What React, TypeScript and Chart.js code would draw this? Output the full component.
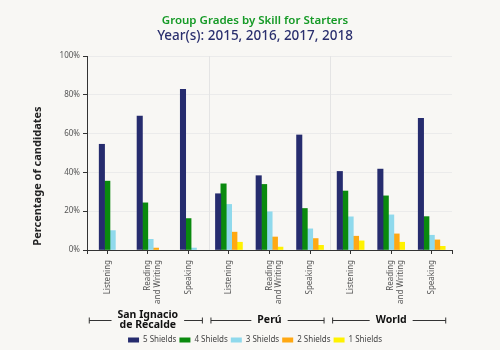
import React, { useEffect, useRef } from "react";
import { Chart, registerables } from "chart.js";

Chart.register(...registerables);

const skillLabels: (string | string[])[] = [
  "Listening", ["Reading", "and Writing"], "Speaking",
  "Listening", ["Reading", "and Writing"], "Speaking",
  "Listening", ["Reading", "and Writing"], "Speaking",
];
const groupLabels: string[][] = [["San Ignacio", "de Recalde"], ["Perú"], ["World"]];
const skillsPerGroup = 3;

const seriesNames = ["5 Shields", "4 Shields", "3 Shields", "2 Shields", "1 Shields"];
const shields5 = [54.5, 69, 82.8, 29, 38.3, 59.3, 40.5, 41.7, 67.9];
const shields4 = [35.5, 24.3, 16.2, 34.1, 33.8, 21.4, 30.4, 27.9, 17.2];
const shields3 = [10, 5.5, 1, 23.5, 19.7, 10.9, 17.1, 18.1, 7.6];
const shields2 = [null, 1, null, 9.2, 6.7, 5.9, 7.1, 8.3, 5.2];
const shields1 = [null, null, null, 4, 1.5, 2.4, 4.7, 4, 1.9];
const yTicks = [0, 20, 40, 60, 80, 100];

const colors = ["#262c6e", "#0a8a0e", "#8fd9ec", "#ffa812", "#fff200"];
const BG = "#f8f7f4";
const FONT = "'Noto Sans', sans-serif";

const decorPlugin = {
  id: "decor",
  beforeDatasetsDraw(chart: any) {
    const { ctx, chartArea } = chart;
    const xs = chart.scales.x;
    ctx.save();
    ctx.strokeStyle = "#e4e4e4";
    ctx.lineWidth = 1;
    for (let g = 1; g < groupLabels.length; g++) {
      const a = xs.getPixelForValue(g * skillsPerGroup - 1);
      const b = xs.getPixelForValue(g * skillsPerGroup);
      const x = Math.round((a + b) / 2) + 0.5;
      ctx.beginPath();
      ctx.moveTo(x, chartArea.top);
      ctx.lineTo(x, chartArea.bottom);
      ctx.stroke();
    }
    ctx.restore();
  },
  afterDraw(chart: any) {
    const { ctx, chartArea } = chart;
    const xs = chart.scales.x;
    ctx.save();
    ctx.strokeStyle = "#333";
    ctx.lineWidth = 1;
    [chartArea.left, chartArea.right].forEach((x: number) => {
      const px = Math.round(x) + 0.5;
      ctx.beginPath();
      ctx.moveTo(px, chartArea.bottom);
      ctx.lineTo(px, chartArea.bottom + 4);
      ctx.stroke();
    });
    ctx.fillStyle = "#222";
    ctx.font = `bold 11px ${FONT}`;
    ctx.textAlign = "center";
    ctx.textBaseline = "middle";
    ctx.translate(38, chartArea.bottom - 74);
    ctx.rotate(-Math.PI / 2);
    ctx.fillText("Percentage of candidates", 0, 0);
    ctx.restore();

    ctx.save();
    ctx.font = `bold 10.5px ${FONT}`;
    ctx.fillStyle = "#111";
    ctx.strokeStyle = "#333";
    ctx.lineWidth = 1;
    ctx.textAlign = "center";
    ctx.textBaseline = "middle";
    const y = Math.round(chartArea.bottom + 70) + 0.5;
    groupLabels.forEach((lines, g) => {
      const x0 = xs.getPixelForValue(g * skillsPerGroup);
      const x2 = xs.getPixelForValue(g * skillsPerGroup + skillsPerGroup - 1);
      const cx = (x0 + x2) / 2;
      const start = x0 - 18;
      const end = x2 + 14;
      const tw = Math.max(...lines.map((l) => ctx.measureText(l).width));
      const lh = 10;
      lines.forEach((l, i) => {
        ctx.fillText(l, cx, y + (i - (lines.length - 1) / 2) * lh);
      });
      ctx.beginPath();
      ctx.moveTo(start, y);
      ctx.lineTo(cx - tw / 2 - 6, y);
      ctx.moveTo(cx + tw / 2 + 6, y);
      ctx.lineTo(end, y);
      ctx.moveTo(start, y - 3);
      ctx.lineTo(start, y + 3);
      ctx.moveTo(end, y - 3);
      ctx.lineTo(end, y + 3);
      ctx.stroke();
    });
    ctx.restore();
  },
};

export default function App() {
  const ref = useRef<HTMLCanvasElement | null>(null);
  useEffect(() => {
    document.body.style.margin = "0";
    document.body.style.background = BG;
    const all = [shields5, shields4, shields3, shields2, shields1];
    const chart = new Chart(ref.current as HTMLCanvasElement, {
      type: "bar",
      data: {
        labels: skillLabels,
        datasets: all.map((d, i) => ({
          label: seriesNames[i],
          data: d,
          backgroundColor: colors[i],
          borderWidth: 0,
          barThickness: 5.4,
          skipNull: true,
        })) as any,
      },
      options: {
        responsive: false,
        animation: false,
        layout: { padding: { left: 10, right: 0, top: 14, bottom: -4 } },
        plugins: {
          title: {
            display: true,
            text: "Group Grades by Skill for Starters",
            color: "#159a26",
            font: { family: FONT, size: 11.5, weight: "600" },
            padding: { top: 0, bottom: 0 },
          },
          subtitle: {
            display: true,
            text: "Year(s): 2015, 2016, 2017, 2018",
            color: "#2a2f6e",
            font: { family: FONT, size: 13.5, weight: "500" },
            padding: { top: 0, bottom: 12 },
          },
          legend: {
            position: "bottom",
            labels: {
              boxWidth: 11,
              boxHeight: 5,
              padding: 3,
              color: "#444",
              font: { family: FONT, size: 8 },
            },
          },
          tooltip: { enabled: false },
        },
        scales: {
          x: {
            afterFit: (s: any) => { s.height = 83; },
            grid: { display: true, color: "transparent", tickColor: "#333", tickLength: 4, offset: false },
            border: { color: "#333" },
            ticks: { maxRotation: 90, minRotation: 90, color: "#555", font: { family: FONT, size: 8 }, padding: 6 },
          },
          y: {
            min: 0,
            max: 100,
            afterFit: (s: any) => { s.width = 77; },
            afterBuildTicks: (s: any) => { s.ticks = yTicks.map((v) => ({ value: v })); },
            grid: { color: "#ebebeb", tickColor: "#333", tickLength: 4 },
            border: { color: "#333" },
            ticks: { color: "#555", font: { family: FONT, size: 8 }, padding: 3, callback: (v: any) => v + "%" },
          },
          yR: {
            position: "right",
            display: true,
            afterFit: (s: any) => { s.width = 48; },
            grid: { drawOnChartArea: false, drawTicks: false },
            border: { display: false },
            ticks: { display: false },
          },
        },
      },
      plugins: [decorPlugin],
    });
    return () => chart.destroy();
  }, []);
  return (
    <div style={{ width: 500, height: 350, background: BG }}>
      <canvas ref={ref} width={500} height={350} />
    </div>
  );
}
